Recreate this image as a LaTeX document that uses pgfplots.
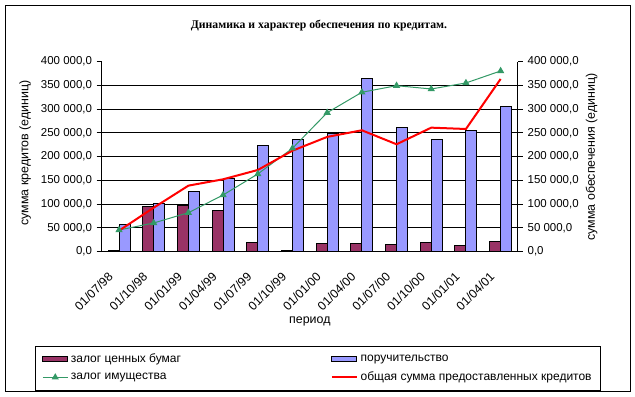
\documentclass[border=0pt]{standalone}
\usepackage{fontspec}
\setmainfont{Liberation Sans}
\newfontfamily\tnr{Liberation Serif}
\usepackage{pgfplots}
\pgfplotsset{compat=1.18}
\definecolor{maroon}{HTML}{993366}
\definecolor{lblue}{HTML}{9999FF}
\definecolor{sgreen}{HTML}{339966}
\newcommand{\fs}{\fontsize{8.6}{10}\selectfont}
\newcommand{\fx}{\fontsize{9.2}{11}\selectfont}
\newcommand{\fl}{\fontsize{9.3}{11}\selectfont}
\newcommand{\fg}{\fontsize{9.0}{11}\selectfont}
\begin{document}
\begin{tikzpicture}[x=0.75pt,y=0.75pt]
\useasboundingbox (-101.7,-144.5) rectangle (533.3,251.5);
\fill[white] (-101.7,-144.5) rectangle (533.3,251.5);
\draw[black, line width=0.75pt] (-96.4,-139.5) rectangle (528.3,246.2);
\begin{axis}[
  at={(0,0)}, anchor=south west,
  scale only axis, width=312.2pt, height=142.35pt,
  xmin=-0.5, xmax=11.5, ymin=0, ymax=400000,
  axis x line*=bottom, axis y line*=left,
  axis line style={black, line width=0.75pt, -},
  every tick/.style={black, line width=0.75pt},
  tick align=outside,
  major tick length=3.75pt, minor tick length=3.75pt,
  xtick={0,...,11},
  xtick style={draw=none},
  minor xtick={-0.5,0.5,...,11.5},
  xticklabels={01/07/98,01/10/98,01/01/99,01/04/99,01/07/99,01/10/99,01/01/00,01/04/00,01/07/00,01/10/00,01/01/01,01/04/01},
  xticklabel style={font=\fx, rotate=45, anchor=north east, xshift=-10.45pt, yshift=1.95pt},
  ytick={0,50000,...,400000},
  yticklabels={{0,0},{50 000,0},{100 000,0},{150 000,0},{200 000,0},{250 000,0},{300 000,0},{350 000,0},{400 000,0}},
  yticklabel style={font=\fs},
  scaled y ticks=false,
  extra y ticks={50000,100000,150000,200000,250000,300000,350000},
  extra y tick labels={},
  extra y tick style={grid=major, major tick length=0pt},
  grid style={black, line width=0.75pt},
  title={\tnr\bfseries Динамика и характер обеспечения по кредитам.},
  title style={at={(axis description cs:0.522,1.146)}, anchor=center, font=\fontsize{8.8}{11}\selectfont},
  ylabel={сумма кредитов (единиц)},
  ylabel style={at={(axis description cs:-0.184,0.519)}, anchor=center, font=\fl},
  xlabel={период},
  xlabel style={at={(axis description cs:0.5,-0.371)}, anchor=center, font=\fl},
  legend columns=2,
  legend cell align=left,
  legend style={at={(axis description cs:-0.160,-0.498)}, anchor=north west, draw=black, line width=0.75pt, font=\fg, inner xsep=5pt, inner ysep=3.5pt, row sep=1.5pt},
]
\addplot[ybar, bar width=8.25pt, bar shift=-4.125pt, fill=maroon, draw=black, line width=0.75pt,
  legend image code/.code={\draw[fill=maroon, draw=black, line width=0.75pt] (0pt,-1.9pt) rectangle (18.75pt,1.9pt);}]
  coordinates {(0,2500) (1,93800) (2,95900) (3,85400) (4,20000) (5,2500) (6,17900) (7,17900) (8,15800) (9,20000) (10,13700) (11,22100)};
\addlegendentry{\makebox[193pt][l]{залог ценных бумаг}}
\addplot[ybar, bar width=8.25pt, bar shift=4.125pt, fill=lblue, draw=black, line width=0.75pt,
  legend image code/.code={\draw[fill=lblue, draw=black, line width=0.75pt] (0pt,-1.9pt) rectangle (18.75pt,1.9pt);}]
  coordinates {(0,55900) (1,101600) (2,127500) (3,154300) (4,222400) (5,236500) (6,247700) (7,365100) (8,261800) (9,236500) (10,254000) (11,306100)};
\addlegendentry{поручительство}
\addplot[sgreen, line width=0.75pt, mark=triangle*, mark size=2.4pt, mark options={fill=sgreen, draw=sgreen},
  legend image code/.code={\draw[sgreen, line width=0.75pt] (0pt,0pt) -- (18.75pt,0pt); \fill[sgreen] (9.375pt,0pt) +(90:2.4pt) -- +(210:2.4pt) -- +(330:2.4pt) -- cycle;}]
  coordinates {(0,45300) (1,60100) (2,81800) (3,119100) (4,163400) (5,217500) (6,292600) (7,335600) (8,349500) (9,342500) (10,355200) (11,380500)};
\addlegendentry{залог имущества}
\addplot[red, line width=1.5pt, mark=none,
  legend image code/.code={\draw[red, line width=1.5pt] (0pt,0pt) -- (18.75pt,0pt);}]
  coordinates {(0,44000) (1,92400) (2,138800) (3,152200) (4,171800) (5,212500) (6,241500) (7,255500) (8,226000) (9,261000) (10,258200) (11,363600)};
\addlegendentry{общая сумма предоставленных кредитов}
\end{axis}
\begin{axis}[
  at={(0,0)}, anchor=south west,
  scale only axis, width=312.2pt, height=142.35pt,
  xmin=-0.5, xmax=11.5, ymin=0, ymax=400000,
  axis x line=none, axis y line*=right,
  axis line style={black, line width=0.75pt, -},
  every tick/.style={black, line width=0.75pt},
  tick align=outside,
  major tick length=3.75pt,
  ytick={0,50000,...,400000},
  yticklabels={{0,0},{50 000,0},{100 000,0},{150 000,0},{200 000,0},{250 000,0},{300 000,0},{350 000,0},{400 000,0}},
  yticklabel style={font=\fs},
  scaled y ticks=false,
  ylabel={сумма обеспечения (единиц)},
  ylabel style={at={(axis description cs:1.177,0.498)}, anchor=center, rotate=0, font=\fl},
]
\addplot[draw=none, forget plot] coordinates {(0,0)};
\end{axis}
\end{tikzpicture}
\end{document}
